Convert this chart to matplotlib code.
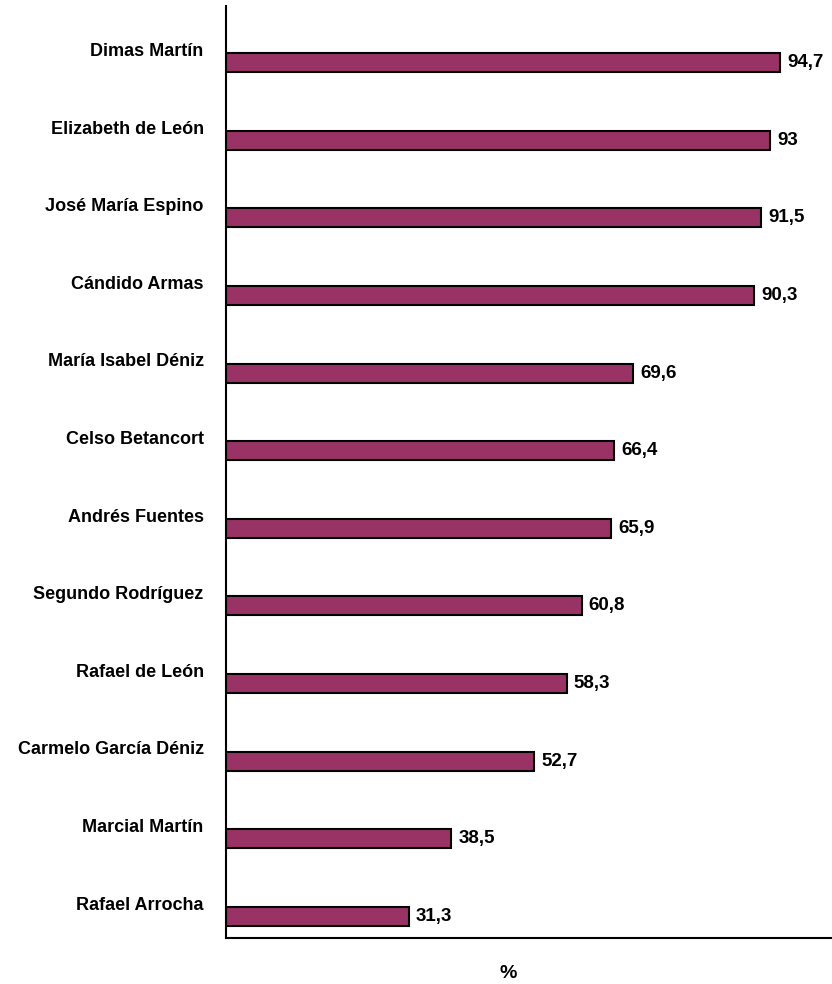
import matplotlib.pyplot as plt

names = ["Dimas Martín", "Elizabeth de León", "José María Espino", "Cándido Armas",
         "María Isabel Déniz", "Celso Betancort", "Andrés Fuentes", "Segundo Rodríguez",
         "Rafael de León", "Carmelo García Déniz", "Marcial Martín", "Rafael Arrocha"]
values = [94.7, 93, 91.5, 90.3, 69.6, 66.4, 65.9, 60.8, 58.3, 52.7, 38.5, 31.3]
value_labels = ["94,7", "93", "91,5", "90,3", "69,6", "66,4", "65,9", "60,8",
                "58,3", "52,7", "38,5", "31,3"]

plt.rcParams['font.family'] = ['Liberation Sans', 'DejaVu Sans']
plt.rcParams['font.weight'] = 'bold'

fig = plt.figure(figsize=(8.32, 9.84), dpi=100)
ax = fig.add_axes([0.2716, 0.0467, 0.7284, 0.9472])

n = len(names)
ypos = list(range(n - 1, -1, -1))
ax.barh(ypos, values, height=0.245, color='#993366', edgecolor='black', linewidth=1.5)

for y, v, lab, name in zip(ypos, values, value_labels, names):
    ax.annotate(lab, (v, y), xytext=(5, 0), textcoords='offset points',
                va='center', ha='left', fontsize=13.5, fontweight='bold')
    ax.annotate(name, (0, y), xytext=(-16, 8), textcoords='offset points',
                va='center', ha='right', fontsize=13, fontweight='bold',
                annotation_clip=False)

ax.set_xlim(0, 103.6)
ax.set_ylim(-0.28, n - 1 + 0.73)
ax.set_xticks([])
ax.set_yticks([])
for s in ['top', 'right']:
    ax.spines[s].set_visible(False)
for s in ['left', 'bottom']:
    ax.spines[s].set_linewidth(1.5)

fig.text(508 / 832, 1 - 973 / 984, "%", ha='center', va='center', fontsize=14, fontweight='bold')

fig.savefig('out.png', dpi=100)
